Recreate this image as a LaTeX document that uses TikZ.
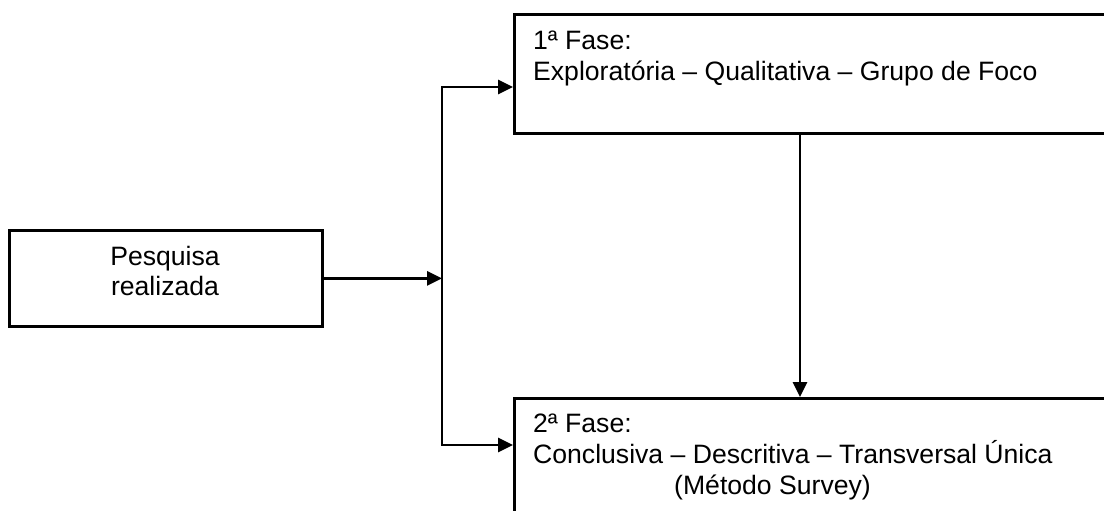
\documentclass[tikz,border=0pt]{standalone}
\usepackage{fontspec}
\setmainfont{Liberation Sans}
\usetikzlibrary{arrows.meta}
\begin{document}
\begin{tikzpicture}[x=1pt, y=-1pt,
  box/.style={draw=black, line width=2.8pt, inner sep=0pt, anchor=north west},
  txt/.style={font=\fontsize{26.6}{31}\selectfont, inner sep=0pt, text=black},
  link/.style={draw=black, line width=2.8pt, -{Triangle[length=15pt,width=14pt]}}
]
  \useasboundingbox (0,0) rectangle (1104,511);
  \clip (0,0) rectangle (1104,511);

  % boxes
  \node[box, minimum width=313pt, minimum height=96pt] (pesq) at (8,229) {};
  \node[box, minimum width=700pt, minimum height=119pt] (fase1) at (513,13) {};
  \node[box, minimum width=700pt, minimum height=200pt] (fase2) at (513,397) {};

  % texts
  \node[txt, anchor=base] (pa) at (165,265) {Pesquisa};
  \node[txt, anchor=base] (pb) at (165,295) {realizada};

  \node[txt, anchor=base west] (f1a) at (533,50) {1ª Fase:};
  \node[txt, anchor=base west] (f1b) at (533,81) {Exploratória – Qualitativa – Grupo de Foco};

  \node[txt, anchor=base west] (f2a) at (533,432) {2ª Fase:};
  \node[txt, anchor=base west] (f2b) at (533,463) {Conclusiva – Descritiva – Transversal Única};
  \node[txt, anchor=base west] (f2c) at (674,494) {(Método Survey)};

  % connectors
  \coordinate (split) at (442,277);
  \coordinate (up) at (442,87);
  \coordinate (down) at (442,445);
  \coordinate (drop) at (800,0);

  \draw[link] (pesq.east) -- (pesq.east -| split);
  \draw[link] (split) -- (up) -- (up -| fase1.west);
  \draw[link] (split) -- (down) -- (down -| fase2.west);
  \draw[link] (drop |- fase1.south) -- (drop |- fase2.north);
\end{tikzpicture}
\end{document}
